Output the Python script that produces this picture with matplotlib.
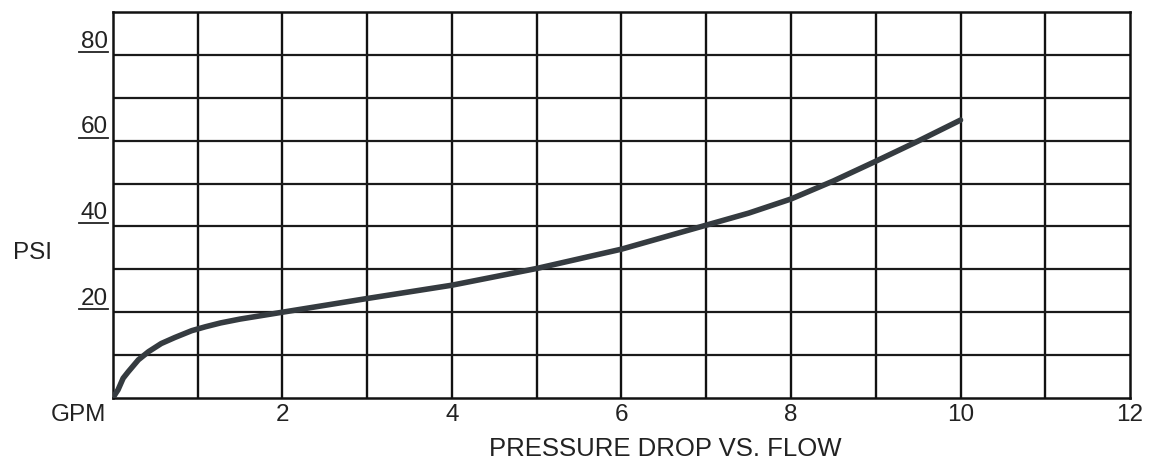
import matplotlib.pyplot as plt
import matplotlib.transforms as mtransforms

# flow (GPM) vs pressure drop (PSI)
gpm = [0, 0.03, 0.06, 0.12, 0.18, 0.3, 0.42, 0.57, 0.73, 0.93, 1.09, 1.27, 1.5, 2, 2.5, 3, 4,
       5, 6, 7, 7.5, 8, 8.5, 9, 9.5, 10]
psi = [0, 1.0, 1.9, 4.6, 6.1, 8.9, 10.8, 12.7, 14.1, 15.7, 16.6, 17.5, 18.4, 20.0, 21.6, 23.2, 26.3,
       30.2, 34.7, 40.3, 43.1, 46.4, 50.6, 55.2, 59.9, 64.8]

x_labels = ['2', '4', '6', '8', '10', '12']
x_label_pos = [2, 4, 6, 8, 10, 12]
y_labels = ['20', '40', '60', '80']
y_label_pos = [20, 40, 60, 80]

plt.rcParams['font.family'] = ['Liberation Sans', 'DejaVu Sans']

fig = plt.figure(figsize=(11.49, 4.61), dpi=100)
ax = fig.add_axes([0.0983, 0.1367, 0.8852, 0.8373])

ax.set_xlim(0, 12)
ax.set_ylim(0, 90)

# grid: every 1 GPM and every 10 PSI
for gx in range(1, 12):
    ax.axvline(gx, color='#111111', lw=1.7, zorder=1)
for gy in range(10, 90, 10):
    ax.axhline(gy, color='#1a1a1a', lw=1.6, zorder=1)
for s in ax.spines.values():
    s.set_linewidth(1.8)
    s.set_color('#111111')

ax.plot(gpm, psi, color='#353b40', lw=4.0, solid_capstyle='round',
        solid_joinstyle='round', zorder=3)

ax.set_xticks(x_label_pos)
ax.set_xticklabels(x_labels, fontsize=17.5, color='#222222')
ax.set_yticks([])
ax.tick_params(axis='x', length=0, pad=4)

# underlined psi labels sitting above their grid lines
trans = mtransforms.blended_transform_factory(ax.transAxes, ax.transData)
for lab, v in zip(y_labels, y_label_pos):
    ax.text(-0.005, v + 1.7, lab, transform=trans, ha='right', va='baseline',
            fontsize=17.5, color='#222222')
    ax.plot([-0.033, -0.005], [v + 0.7, v + 0.7], transform=trans,
            color='#222222', lw=1.3, clip_on=False)

fig.text(0.028, 0.452, 'PSI', ha='center', va='center', fontsize=17.5, color='#222222')
fig.text(0.068, 0.10, 'GPM', ha='center', va='center', fontsize=17.5, color='#222222')
fig.text(0.579, 0.025, 'PRESSURE DROP VS. FLOW', ha='center', va='center',
         fontsize=18.5, color='#222222')

fig.savefig('out.png', dpi=100)
